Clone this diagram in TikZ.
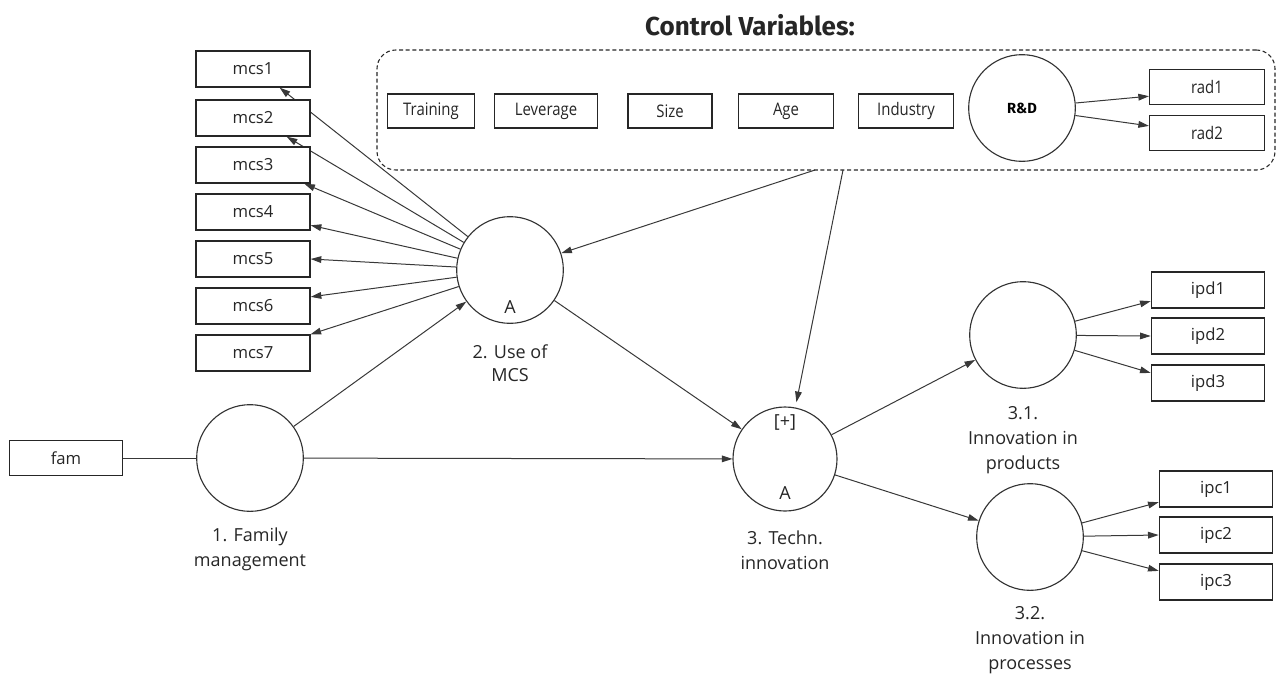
\documentclass[tikz,border=0pt]{standalone}
\usepackage{fontspec}
\setmainfont{Open Sans}
\newfontfamily\titlefont{Fira Sans}
\newfontfamily\condfont[FakeStretch=0.86]{Open Sans}
\usetikzlibrary{arrows.meta}
\pgfdeclarelayer{background}
\pgfsetlayers{background,main}
\tikzset{
  lbl/.style={font=\fontsize{13.5pt}{17pt}\selectfont, text=black!85, inner sep=0pt},
  itembox/.style={draw=black!85, line width=1pt, fill=white, inner sep=0pt,
    minimum width=85.5pt, minimum height=27pt, font=\fontsize{12.5pt}{14pt}\selectfont, text=black!85},
  ctlbox/.style={itembox, minimum height=25.5pt, font=\condfont\fontsize{13pt}{14pt}\selectfont},
  latent/.style={draw=black!80, line width=0.85pt, circle, fill=white, minimum size=80pt, inner sep=0pt},
  link/.style={draw=black!78, line width=0.75pt},
  arr/.style={link, -{Triangle[length=8pt,width=5pt]}},
}
\begin{document}
\begin{tikzpicture}[x=0.75pt,y=-0.75pt]
\useasboundingbox (0,0) rectangle (1277,679);

% title and group of control variables
\node[font=\titlefont\bfseries\fontsize{19.5pt}{22pt}\selectfont, text=black!85] (title) at (750,25) {Control Variables:};
\node[draw=black!85, dashed, dash pattern=on 3pt off 2pt, line width=0.8pt, rounded corners=14pt,
      minimum width=673.5pt, minimum height=90pt, inner sep=0pt] (ctrl) at (826,110) {};
\node[ctlbox, minimum width=65pt] (train) at (431,111) {Training};
\node[ctlbox, minimum width=77pt] (lev) at (546,111) {Leverage};
\node[ctlbox, minimum width=63pt] (size) at (670,111) {Size};
\node[ctlbox, minimum width=71pt] (age) at (786,111) {Age};
\node[ctlbox, minimum width=71pt] (ind) at (906,111) {Industry};
\node[latent, font=\titlefont\bfseries\fontsize{11pt}{12pt}\selectfont] (rd) at (1022,108) {R\&D};
\node[itembox, minimum width=86pt, minimum height=26pt, font=\condfont\fontsize{13pt}{14pt}\selectfont] (rad1) at (1207,87) {rad1};
\node[itembox, minimum width=86pt, minimum height=26pt, font=\condfont\fontsize{13pt}{14pt}\selectfont] (rad2) at (1207,133) {rad2};
\coordinate (ctrlA) at (815,170);
\coordinate (ctrlB) at (843,170);

% indicators of MCS use
\node[itembox] (mcs1) at (253,69) {mcs1};
\node[itembox] (mcs2) at (253,118) {mcs2};
\node[itembox] (mcs3) at (253,165) {mcs3};
\node[itembox] (mcs4) at (253,212) {mcs4};
\node[itembox] (mcs5) at (253,259) {mcs5};
\node[itembox] (mcs6) at (253,306) {mcs6};
\node[itembox] (mcs7) at (253,353) {mcs7};

% constructs
\node[latent] (mcs) at (510,270) {};
\node[lbl] (mcsA) at (510,307) {A};
\node[lbl, align=center] (mcsL) at (510,363) {2. Use of\\MCS};

\node[itembox, minimum width=85pt, minimum height=26pt] (fam) at (66,458) {fam};
\node[latent] (fm) at (250,458) {};
\node[lbl, align=center, font=\fontsize{13.5pt}{19pt}\selectfont] (fmL) at (250,549) {1. Family\\management};

\node[latent, minimum size=78pt] (tech) at (785,459) {};
\node[lbl] (techP) at (785,422) {[+]};
\node[lbl] (techA) at (785,493) {A};
\node[lbl, align=center, font=\fontsize{13.5pt}{19pt}\selectfont] (techL) at (785,550) {3. Techn.\\innovation};

\node[latent] (prod) at (1023,335) {};
\node[lbl, align=center, font=\fontsize{13.5pt}{19pt}\selectfont] (prodL) at (1023,440) {3.1.\\Innovation in\\products};
\node[latent] (proc) at (1030,537) {};
\node[lbl, align=center, font=\fontsize{13.5pt}{19pt}\selectfont] (procL) at (1030,640) {3.2.\\Innovation in\\processes};

\node[itembox, minimum width=85pt] (ipd1) at (1208,290) {ipd1};
\node[itembox, minimum width=85pt] (ipd2) at (1208,336) {ipd2};
\node[itembox, minimum width=85pt] (ipd3) at (1208,383) {ipd3};
\node[itembox, minimum width=85pt] (ipc1) at (1216,489) {ipc1};
\node[itembox, minimum width=85pt] (ipc2) at (1216,535) {ipc2};
\node[itembox, minimum width=85pt] (ipc3) at (1216,582) {ipc3};

% connectors, kept behind the boxes
\begin{pgfonlayer}{background}
\draw[arr] (rd) -- (rad1.189);
\draw[arr] (rd) -- (rad2.173);

\draw[arr] (mcs) -- (mcs1.-35);
\draw[arr] (mcs) -- (mcs2.-29);
\draw[arr] (mcs) -- (mcs3.-20);
\draw[arr] (mcs) -- (mcs4.-13);
\draw[arr] (mcs) -- (mcs5.east);
\draw[arr] (mcs) -- (mcs6.9);
\draw[arr] (mcs) -- (mcs7.18);

\draw[link] (fam) -- (fm);
\draw[arr] (fm) -- (mcs);
\draw[arr] (fm) -- (tech);
\draw[arr] (mcs) -- (tech);
\draw[arr] (ctrlA) -- (mcs);
\draw[arr, shorten >=4pt] (ctrlB) -- (tech);
\draw[arr] (tech) -- (prod);
\draw[arr] (tech) -- (proc);

\draw[arr] (prod) -- (ipd1.191);
\draw[arr] (prod) -- (ipd2.west);
\draw[arr] (prod) -- (ipd3.170);
\draw[arr] (proc) -- (ipc1.193);
\draw[arr] (proc) -- (ipc2.west);
\draw[arr] (proc) -- (ipc3.169);
\end{pgfonlayer}
\end{tikzpicture}
\end{document}
